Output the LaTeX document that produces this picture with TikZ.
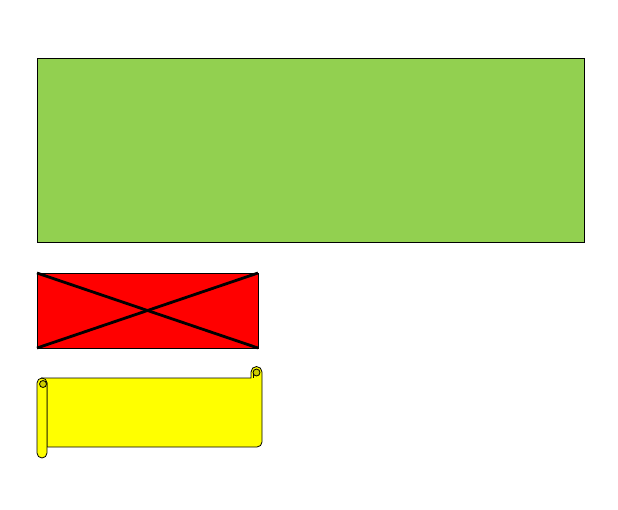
\documentclass[tikz,border=0pt]{standalone}
\definecolor{greenfill}{HTML}{92D050}
\definecolor{scrollyellow}{HTML}{FFFF00}
\definecolor{curlyellow}{HTML}{CCCC00}
\definecolor{boxred}{HTML}{FF0000}
\tikzset{shapeline/.style={draw=black,line width=0.8pt}}
\begin{document}
\begin{tikzpicture}[x=1pt,y=-1pt]
\useasboundingbox (0,0) rectangle (618,509);
% green rectangle
\filldraw[shapeline,fill=greenfill] (37,58) rectangle (584,242);
% red crossed rectangle
\filldraw[shapeline,fill=boxred] (37,273) rectangle (258,348);
\draw[line width=2.8pt] (37,273) -- (258,348);
\draw[line width=2.8pt] (37,348) -- (258,273);
% scroll body
\filldraw[shapeline,fill=scrollyellow] (42,378) -- (251,378) -- (251,372) arc[start angle=180,end angle=360,radius=5.5] -- (262,442) arc[start angle=0,end angle=90,radius=5] -- (47,447) -- (47,383) -- cycle;
% right curl inner
\filldraw[shapeline,fill=curlyellow] (256.5,372.5) circle[radius=3.5];
\draw[shapeline] (253,372.5) -- (253,378);
% left roll
\filldraw[shapeline,fill=scrollyellow,rounded corners=5pt] (37,378) rectangle (47,458);
\filldraw[shapeline,fill=curlyellow] (43,384) circle[radius=3.5];
\end{tikzpicture}
\end{document}
